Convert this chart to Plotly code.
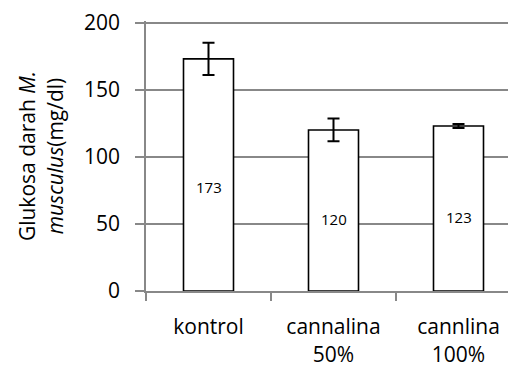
import plotly.graph_objects as go

categories = ["kontrol", "cannalina<br>50%", "cannlina<br>100%"]
values = [173, 120, 123]
errors = [12, 8.5, 1.5]
y_ticks = [0, 50, 100, 150, 200]

FONT = "Open Sans"
GRAY = "#888888"

fig = go.Figure()
fig.add_trace(go.Bar(
    x=categories, y=values, width=0.4,
    marker=dict(color="white", line=dict(color="black", width=1.6)),
    error_y=dict(type="data", array=errors, color="black", thickness=2, width=6),
    showlegend=False, hoverinfo="skip",
))

for c, v in zip(categories, values):
    fig.add_annotation(x=c, y=v * 0.45, text=str(v), showarrow=False,
                       font=dict(family=FONT, size=15, color="black"))

# page body has an 8px default margin, so the figure is sized to fit inside the window
fig.update_layout(
    width=508, height=361,
    margin=dict(l=138, r=0, t=13, b=78),
    plot_bgcolor="white", paper_bgcolor="white",
    font=dict(family=FONT, color="black"),
    xaxis=dict(
        range=[-0.5, 2.46], showgrid=False, showline=True, linecolor=GRAY, linewidth=2,
        ticks="outside", ticklen=8, tickcolor=GRAY, tickwidth=1.5,
        tickson="boundaries", tickfont=dict(family=FONT, size=21, color="black"),
        ticklabelstandoff=16, automargin=False,
    ),
    yaxis=dict(
        range=[0, 201.2], tickvals=y_ticks, showgrid=True, gridcolor=GRAY, gridwidth=1.5,
        showline=True, linecolor=GRAY, linewidth=1.5,
        ticks="outside", ticklen=9, tickcolor=GRAY, tickwidth=1.5,
        tickfont=dict(family=FONT, size=21, color="black"),
        ticklabelstandoff=11, automargin=False, ticklabeloverflow="allow",
        zeroline=False,
        title=dict(text="Glukosa darah <i>M.</i><br><i>musculus</i>(mg/dl)",
                   font=dict(family=FONT, size=21, color="black"), standoff=15),
    ),
    bargap=0.6,
)

fig.write_html("out.html")
